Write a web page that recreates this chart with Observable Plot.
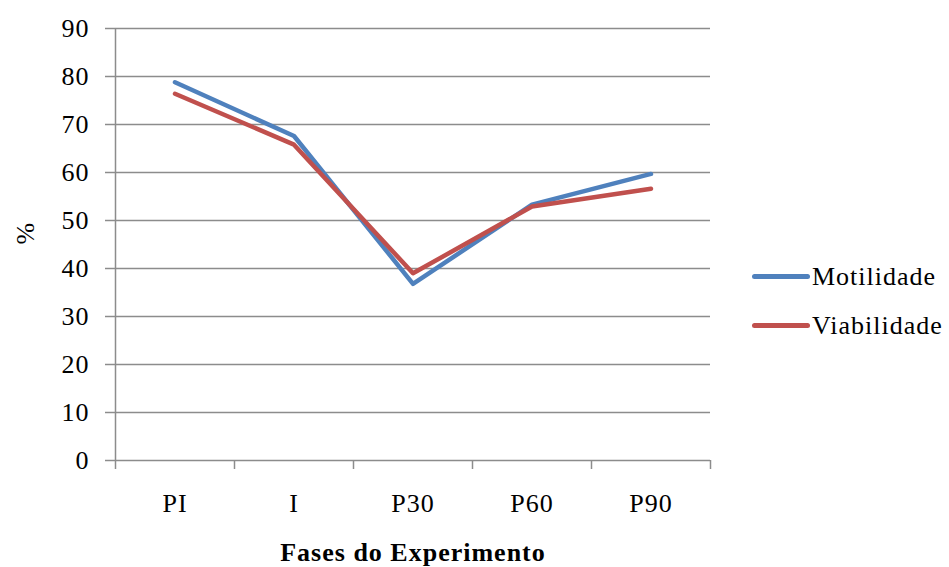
<!DOCTYPE html>
<html>
<head>
<meta charset="utf-8">
<script src="https://cdn.jsdelivr.net/npm/d3@7"></script>
<script src="https://cdn.jsdelivr.net/npm/@observablehq/plot@0.6"></script>
<style>
  html, body { margin: 0; padding: 0; background: #fff; }
  #chart { position: relative; width: 949px; height: 567px; font-family: "Liberation Serif", Tinos, Times, "DejaVu Serif", serif; }
  #chart svg text { letter-spacing: 1px; }
  #legend { position: absolute; left: 752px; top: 252px; font-size: 26px; letter-spacing: 1px; color: #000; }
  .item { display: flex; align-items: center; height: 49px; }
  .swatch { width: 58px; height: 5px; border-radius: 3px; margin-right: 2px; }
</style>
</head>
<body>
<div id="chart"><div id="legend"></div></div>
<script>
const categories = ["PI", "I", "P30", "P60", "P90"];
const seriesNames = ["Motilidade", "Viabilidade"];
const motilidade = [78.8, 67.6, 36.8, 53.3, 59.7];
const viabilidade = [76.4, 65.8, 39.0, 52.9, 56.6];
const yTicks = [0, 10, 20, 30, 40, 50, 60, 70, 80, 90];
const colors = ["#4F81BD", "#C0504D"];
const xTitle = "Fases do Experimento";
const yTitle = "%";

const rows = [];
[motilidade, viabilidade].forEach((vals, s) => {
  vals.forEach((v, i) => rows.push({series: seriesNames[s], i, value: v}));
});
const idx = categories.map((_, i) => i);
const bounds = d3.range(categories.length + 1).map(i => i - 0.5);
const grid = "#8c8c8c";
const FONT = "\"Liberation Serif\", Tinos, Times, \"DejaVu Serif\", serif";

const chart = Plot.plot({
  width: 949,
  height: 567,
  marginLeft: 115,
  marginRight: 239,
  marginTop: 28,
  marginBottom: 107,
  style: {fontFamily: FONT, fontSize: "26px", color: "#000", background: "#fff"},
  x: {type: "linear", domain: [-0.5, categories.length - 0.5]},
  y: {domain: [0, 90]},
  color: {domain: seriesNames, range: colors},
  marks: [
    Plot.gridY(yTicks, {stroke: grid, strokeOpacity: 1, strokeWidth: 1.5}),
    Plot.axisY(yTicks, {tickSize: 10, tickPadding: 16, stroke: grid, strokeWidth: 1.5, fill: "#000", label: null, fontSize: 26, fontFamily: FONT}),
    Plot.ruleX([-0.5], {y1: 0, y2: 90, stroke: grid, strokeWidth: 1.5}),
    Plot.axisX(bounds, {tickSize: 9, tickFormat: () => "", stroke: grid, strokeWidth: 1.5, label: null}),
    Plot.axisX(idx, {tickSize: 0, tickPadding: 33, tickFormat: i => categories[i], fill: "#000", label: null, fontSize: 26, fontFamily: FONT}),
    Plot.line(rows, {x: "i", y: "value", z: "series", stroke: "series", strokeWidth: 4.5, strokeLinejoin: "round", strokeLinecap: "round"}),
    Plot.text([xTitle], {frameAnchor: "bottom", lineAnchor: "bottom", dy: 100, fontWeight: "bold", fontSize: 26, fontFamily: FONT, fill: "#000"}),
    Plot.text([yTitle], {frameAnchor: "left", dx: -90, rotate: -90, fontSize: 26, fontFamily: FONT, fill: "#000"})
  ]
});
document.getElementById("chart").prepend(chart);

const legend = document.getElementById("legend");
seriesNames.forEach((name, s) => {
  const it = document.createElement("div");
  it.className = "item";
  const sw = document.createElement("div");
  sw.className = "swatch";
  sw.style.background = colors[s];
  const t = document.createElement("span");
  t.textContent = name;
  it.append(sw, t);
  legend.append(it);
});
</script>
</body>
</html>
